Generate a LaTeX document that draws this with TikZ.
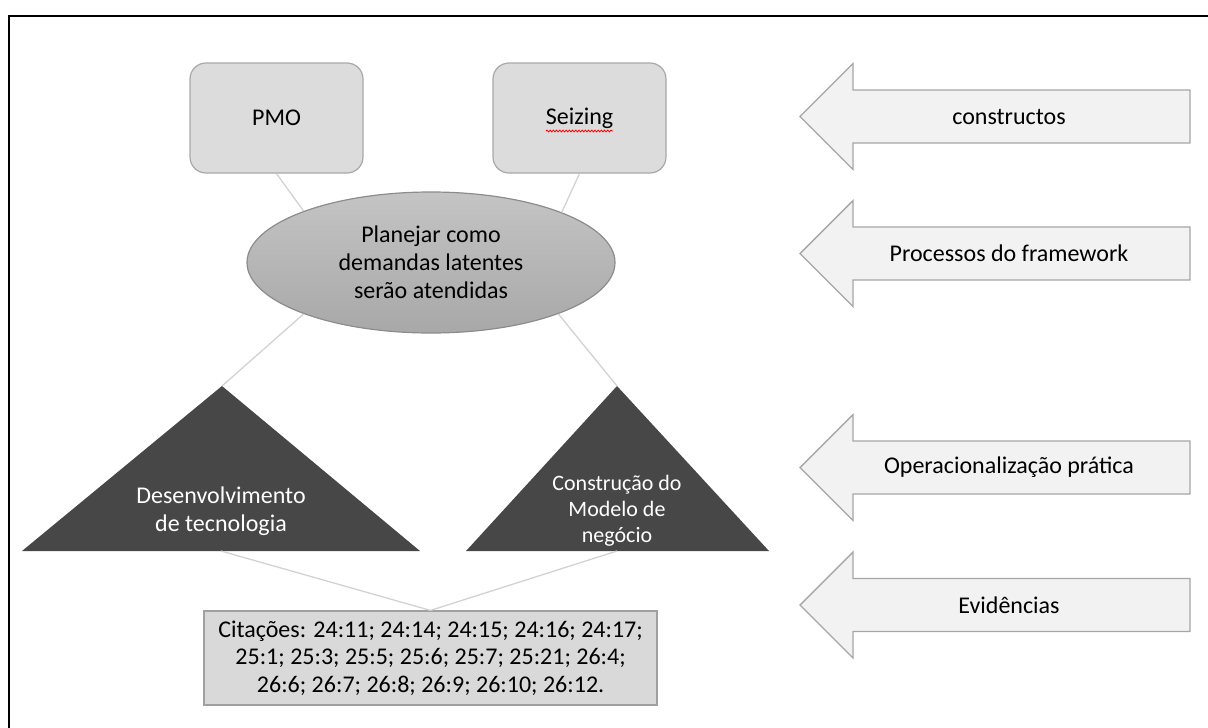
\documentclass[tikz,border=0pt]{standalone}
\usepackage{fontspec}
\setmainfont{Carlito}
\usetikzlibrary{shapes.geometric,decorations.pathmorphing}

\definecolor{boxfill}{HTML}{DCDCDC}
\definecolor{boxline}{HTML}{A9A9A9}
\definecolor{elltop}{HTML}{C4C4C4}
\definecolor{ellbot}{HTML}{A8A8A8}
\definecolor{ellline}{HTML}{8C8C8C}
\definecolor{trifill}{HTML}{474747}
\definecolor{wire}{HTML}{D2D2D2}
\definecolor{arrfill}{HTML}{F2F2F2}
\definecolor{arrline}{HTML}{A6A6A6}
\definecolor{citefill}{HTML}{D9D9D9}
\definecolor{citeline}{HTML}{A0A0A0}

\begin{document}
\begin{tikzpicture}[x=1pt,y=-1pt,
  txt/.style={font=\fontsize{24}{28}\selectfont, text=black, align=center},
  concept/.style={draw=boxline, fill=boxfill, line width=1.2pt, rounded corners=16pt,
    minimum width=173pt, minimum height=110pt, inner sep=0pt, txt},
  process/.style={ellipse, draw=ellline, line width=1.2pt, top color=elltop, bottom color=ellbot,
    minimum width=368pt, minimum height=141pt, inner sep=0pt, txt},
  practice/.style={fill=trifill},
  evidence/.style={draw=citeline, fill=citefill, line width=1.2pt,
    minimum width=453pt, minimum height=94pt, inner sep=0pt,
    font=\fontsize{24}{27.5}\selectfont, align=center},
  wirelink/.style={draw=wire, line width=1.3pt},
  levelarrow/.style={draw=arrline, fill=arrfill, line width=1.4pt, line join=miter},
  spellmark/.style={draw=red, line width=0.8pt, decorate,
    decoration={snake, segment length=3.2pt, amplitude=0.9pt}}
]
\useasboundingbox (0,0) rectangle (1208,728);

% frame
\draw[line width=2pt] (8.5,728) -- (8.5,16) -- (1208,16);

% constructs
\node[concept] (pmo)  at (276.5,118) {PMO};
\node[concept] (seiz) at (579.5,118) {Seizing};
\draw[spellmark] ([shift={(-33.5,13)}]seiz.center) -- ([shift={(33.5,13)}]seiz.center);

% framework process
\node[process] (ell) at (431,262.5) {Planejar como\\demandas latentes\\serão atendidas};

% practical operationalisation
\coordinate (t1apex) at (222,386);
\coordinate (t1base) at (221,551);
\coordinate (t2apex) at (617,386);
\coordinate (t2base) at (617,551);
\fill[practice] (t1apex) -- (420,551) -- (22,551) -- cycle;
\fill[practice] (t2apex) -- (769,551) -- (466,551) -- cycle;
\node[txt, text=white] (t1lab) at (221,511) {Desenvolvimento\\de tecnologia};
\node[font=\fontsize{22}{26}\selectfont, text=white, align=center] (t2lab) at (617,511)
  {Construção do\\Modelo de\\negócio};

% evidence
\node[evidence] (cite) at (430.5,658)
  {Citações: 24:11; 24:14; 24:15; 24:16; 24:17;\\
   25:1; 25:3; 25:5; 25:6; 25:7; 25:21; 26:4;\\
   26:6; 26:7; 26:8; 26:9; 26:10; 26:12.};

% connectors
\draw[wirelink] (pmo.south) -- (ell.158);
\draw[wirelink] (seiz.south) -- (ell.21);
\draw[wirelink] (ell.202) -- (t1apex);
\draw[wirelink] (ell.338) -- (t2apex);
\draw[wirelink] (t1base) -- (cite.north);
\draw[wirelink] (t2base) -- (cite.north);

% level arrows
\foreach \y/\nm/\t in {116.5/arrA/constructos,
                       253.5/arrB/Processos do framework,
                       467.5/arrC/Operacionalização prática,
                       605/arrD/Evidências}{
  \draw[levelarrow] (800,\y) -- (853,\y-53) -- (853,\y-26.5) -- (1190,\y-26.5)
    -- (1190,\y+26.5) -- (853,\y+26.5) -- (853,\y+53) -- cycle;
  \node[txt] (\nm) at (1009,\y) {\t};
}
\end{tikzpicture}
\end{document}
